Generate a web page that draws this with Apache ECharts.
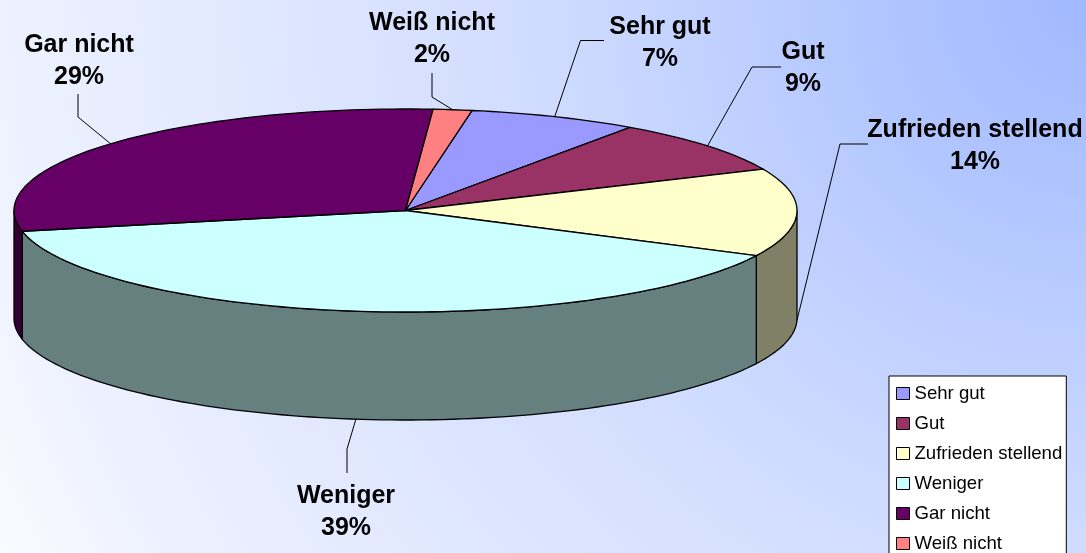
<!DOCTYPE html>
<html><head><meta charset="utf-8">
<style>html,body{margin:0;padding:0;background:#fff}#c{width:1086px;height:553px}</style>
<script src="https://cdn.jsdelivr.net/npm/echarts@6/dist/echarts.min.js"></script>
</head><body><div id="c"></div>
<script>
var categories = ['Sehr gut','Gut','Zufrieden stellend','Weniger','Gar nicht','Weiß nicht'];
var sliceValues = [7.0,8.6,14.0,39.4,29.4,1.6];
var percentLabels = ['7%','9%','14%','39%','29%','2%'];
var topColors = ['#9999FF','#993366','#FFFFCC','#CCFFFF','#660066','#FF8080'];
var wallColors = ['#4C4C80','#4C1933','#808066','#668080','#330033','#804040'];

var startAngle = 9.8;
var pie = {cx:405.5, cy:210.5, rx:391.5, ry:101.5, depth:108};
// label centre and elbow of the leader line, per category
var labelCentres = [[660,43],[803,68],[975,146],[346,512],[79,61],[432,39.5]];
var leaderElbows = [[[604,40.5],[580.5,40.5]],[[781,67],[752,67]],[[868,144],[840,144]],[[347,473],[347,449]],[[78,94],[78,117]],[[432,73],[432,97]]];

var total = sliceValues.reduce(function(a,b){return a+b;},0);
function pt(deg,dy){var t=deg*Math.PI/180;return [pie.cx+pie.rx*Math.sin(t),pie.cy-pie.ry*Math.cos(t)+(dy||0)];}
function arc(a,b,dy){var n=Math.max(2,Math.ceil(Math.abs(b-a)/1.5)),o=[];for(var i=0;i<=n;i++)o.push(pt(a+(b-a)*i/n,dy));return o;}

function renderSlice(idx){
  return function(params,api){
    var before=0;for(var i=0;i<idx;i++)before+=sliceValues[i];
    var a0=startAngle+before/total*360;
    var a1=a0+api.value(0)/total*360;
    var kids=[];
    var stroke={stroke:'#000',lineWidth:1.3,lineJoin:'round'};
    var w0=Math.max(a0,90),w1=Math.min(a1,270);
    if(w1>w0){
      var up=arc(w0,w1,0),down=arc(w1,w0,pie.depth);
      kids.push({type:'polygon',z2:1,shape:{points:up.concat(down)},style:Object.assign({fill:wallColors[idx]},stroke)});
    }
    kids.push({type:'polygon',z2:2,shape:{points:[[pie.cx,pie.cy]].concat(arc(a0,a1,0))},style:Object.assign({fill:topColors[idx]},stroke)});
    var mid=(a0+a1)/2, m=mid%360;
    var anchor=pt(mid,(m>90&&m<270)?pie.depth:0);
    kids.push({type:'polyline',z2:3,shape:{points:leaderElbows[idx].concat([anchor])},style:{fill:null,stroke:'#000',lineWidth:1}});
    var c=labelCentres[idx];
    kids.push({type:'text',z2:4,style:{text:categories[idx]+'\n'+percentLabels[idx],x:c[0],y:c[1],align:'center',verticalAlign:'middle',fontFamily:'Liberation Sans',fontWeight:'bold',fontSize:25,lineHeight:32,fill:'#000'}});
    return {type:'group',children:kids};
  };
}

var series=categories.map(function(name,i){
  return {type:'custom',name:name,coordinateSystem:'none',silent:true,clip:false,animation:false,
    itemStyle:{color:topColors[i]},data:[[sliceValues[i]]],renderItem:renderSlice(i)};
});

var chart=echarts.init(document.getElementById('c'),null,{renderer:'canvas'});
chart.setOption({
  animation:false,
  backgroundColor:{type:'radial',global:true,x:1086,y:0,r:1219,colorStops:[
    {offset:0,color:'#A0B8FF'},{offset:0.15,color:'#AFC4FF'},{offset:0.45,color:'#D0DCFF'},{offset:0.89,color:'#EEF2FF'},{offset:1,color:'#FAFBFF'}]},
  legend:{show:true,orient:'vertical',left:889,top:376,height:185,width:177,align:'left',padding:[7,4,7,7],itemGap:9,itemWidth:13,itemHeight:12,
    backgroundColor:'#fff',borderColor:'#000',borderWidth:1,borderRadius:0,icon:'rect',selectedMode:false,
    itemStyle:{borderColor:'#000',borderWidth:1},
    textStyle:{fontFamily:'Liberation Sans',fontSize:18.6,color:'#000',lineHeight:21},data:categories},
  series:series
});
</script></body></html>
